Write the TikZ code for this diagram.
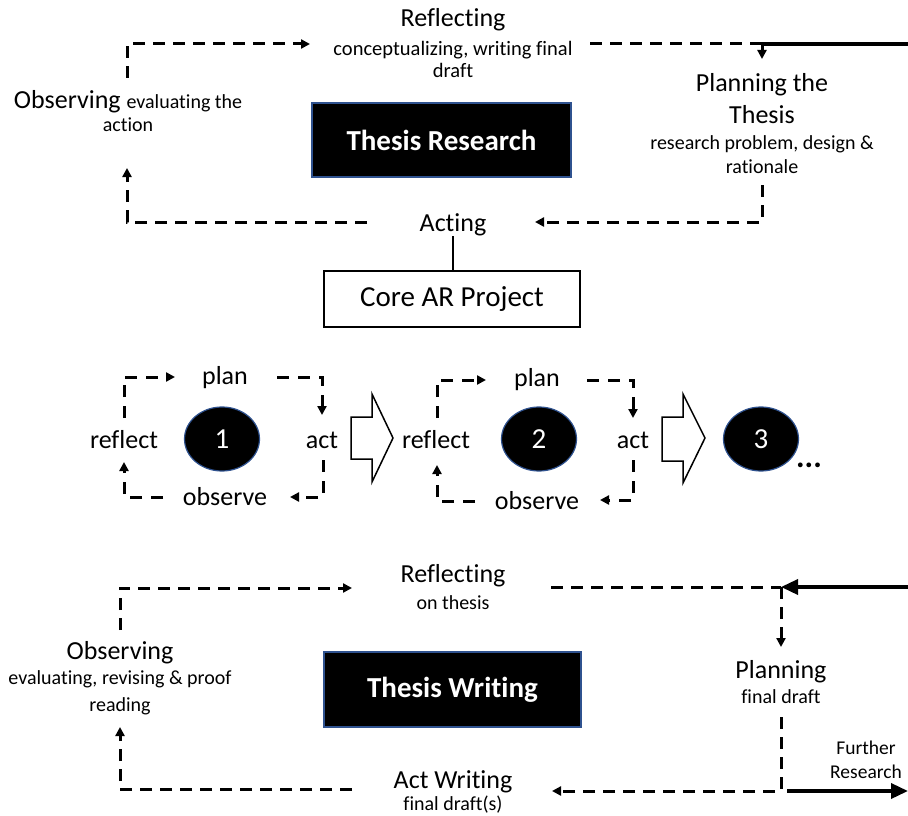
\documentclass[tikz,border=0pt]{standalone}
\usepackage{fontspec}
\setmainfont{Carlito}[Ligatures={NoCommon}]
\usetikzlibrary{arrows.meta,shapes.geometric}

\definecolor{edgeblue}{HTML}{2F528F}

\tikzset{
  big/.style={font=\fontsize{26}{32}\selectfont, inner sep=0pt, align=center},
  small/.style={font=\fontsize{20}{24}\selectfont, inner sep=0pt, align=center},
  darkbox/.style={fill=black, draw=edgeblue, line width=1.2pt, text=white,
    font=\fontsize{29}{34}\bfseries\selectfont, inner sep=0pt},
  whitebox/.style={draw=black, line width=1.5pt, font=\fontsize{29}{34}\selectfont, inner sep=0pt},
  stage/.style={ellipse, fill=black, draw=edgeblue, line width=1.2pt, text=white,
    font=\fontsize{29}{34}\selectfont, inner sep=0pt, minimum width=75pt, minimum height=64pt},
  dl/.style={line width=3pt, dash pattern=on 12pt off 8pt},
  sdl/.style={line width=3pt, dash pattern=on 12pt off 9pt},
  tip/.style={-{Triangle[length=9pt,width=9pt]}},
  bigtip/.style={-{Triangle[length=17pt,width=15pt]}},
  solidline/.style={line width=3.5pt},
  blockarrow/.style={draw=black, line width=1.5pt, fill=white, line join=miter},
}

\begin{document}
\begin{tikzpicture}[x=1pt,y=-1pt]
\useasboundingbox (0,0) rectangle (908,816);

% ---------------- Thesis research cycle ----------------
\node[big] (refT) at (453,20) {Reflecting};
\node[small, font=\fontsize{20.5}{22}\selectfont] (refTs) at (453,59) {conceptualizing, writing final\\draft};
\node[inner sep=0pt, align=center, font=\fontsize{26}{23}\selectfont] (obsT) at (128,111)
  {Observing {\fontsize{20}{23}\selectfont evaluating the}\\{\fontsize{20}{23}\selectfont action}};
\node[darkbox, minimum width=259pt, minimum height=74pt] (thesisR) at (441.5,140) {Thesis Research};
\node[big] (planT) at (762,99) {Planning the\\Thesis};
\node[small] (planTs) at (762,155) {research problem, design \&\\rationale};
\node[big] (actT) at (453,225) {Acting};
\node[whitebox, minimum width=256pt, minimum height=56pt] (core) at (452,299) {Core AR Project};

\coordinate (t1) at (127,78);   \coordinate (t2) at (310,44);
\coordinate (t3) at (590,44);   \coordinate (t4) at (762,44);
\coordinate (t5) at (908,44);   \coordinate (t6) at (762,59);
\coordinate (t7) at (762,185);  \coordinate (t8) at (535,222);
\coordinate (t9) at (367,222);  \coordinate (t10) at (127,168);

\draw[dl,tip] (t1) |- (t2);
\draw[dl] (t3) -- (t4);
\draw[solidline] (t4) -- (t5);
\draw[dl,tip] (t4) -- (t6);
\draw[dl,tip] (t7) |- (t8);
\draw[dl,tip] (t9) -| (t10);
\draw[line width=1.2pt] (actT.south) -- (actT.south |- core.north);

% ---------------- Core AR project cycles ----------------
\node[big] (plan1) at (225,378) {plan};
\node[big] (reflect1) at (124,440) {reflect};
\node[big] (act1) at (322,440) {act};
\node[big] (observe1) at (225,497) {observe};
\node[stage] (e1) at (222,439) {1};

\draw[sdl,tip] (124,418) |- (175,377);
\draw[sdl,tip] (277,377) -| (322,415);
\draw[sdl,tip] (323,460) |- (290,497);
\draw[sdl,tip] (163,497) -| (124,462);

\draw[blockarrow] (351,417) -- (372,417) -- (372,394) -- (393,438) -- (372,482)
  -- (372,459) -- (351,459) -- cycle;

\node[big] (plan2) at (537,380) {plan};
\node[big] (reflect2) at (436,440) {reflect};
\node[big] (act2) at (633,440) {act};
\node[big] (observe2) at (537,501) {observe};
\node[stage] (e2) at (539,439) {2};

\draw[sdl,tip] (437,418) |- (486,380);
\draw[sdl,tip] (587,380) -| (633,418);
\draw[sdl,tip] (633,460) |- (600,500);
\draw[sdl,tip] (475,501) -| (437,465);

\draw[blockarrow] (662,417) -- (683,417) -- (683,394) -- (705,438) -- (683,483)
  -- (683,461) -- (662,461) -- cycle;

\node[stage] (e3) at (761,439) {3};
\node[inner sep=0pt, font=\fontsize{32}{34}\bfseries\selectfont] (more) at (809,465) {...};

% ---------------- Thesis writing cycle ----------------
\node[big] (refB) at (453,576) {Reflecting};
\node[small] (refBs) at (453,603) {on thesis};
\node[big] (obsB) at (120,653) {Observing};
\node[small, font=\fontsize{20}{27}\selectfont] (obsBs) at (120,693) {evaluating, revising \& proof\\reading};
\node[darkbox, minimum width=257pt, minimum height=75pt] (thesisW) at (452.5,689.5) {Thesis Writing};
\node[big] (planB) at (781,672) {Planning};
\node[small] (planBs) at (781,697) {final draft};
\node[small, font=\fontsize{19.5}{24}\selectfont] (further) at (866,760) {Further\\Research};
\node[big] (actB) at (453,782) {Act Writing};
\node[small] (actBs) at (453,805) {final draft(s)};

\coordinate (b1) at (120,630);  \coordinate (b2) at (352,588);
\coordinate (b3) at (551,587);  \coordinate (b4) at (781,587);
\coordinate (b5) at (908,587);  \coordinate (b6) at (781,647);
\coordinate (b7) at (781,717);  \coordinate (b8) at (552,791);
\coordinate (b9) at (787,791);  \coordinate (b10) at (908,791);
\coordinate (b11) at (352,789); \coordinate (b12) at (120,727);

\draw[dl,tip] (b1) |- (b2);
\draw[dl] (b3) -- (b4);
\draw[solidline,bigtip] (b5) -- (b4);
\draw[dl,tip] (b4) -- (b6);
\draw[dl,tip] (b7) |- (b8);
\draw[solidline,bigtip] (b9) -- (b10);
\draw[dl,tip] (b11) -| (b12);
\end{tikzpicture}
\end{document}
